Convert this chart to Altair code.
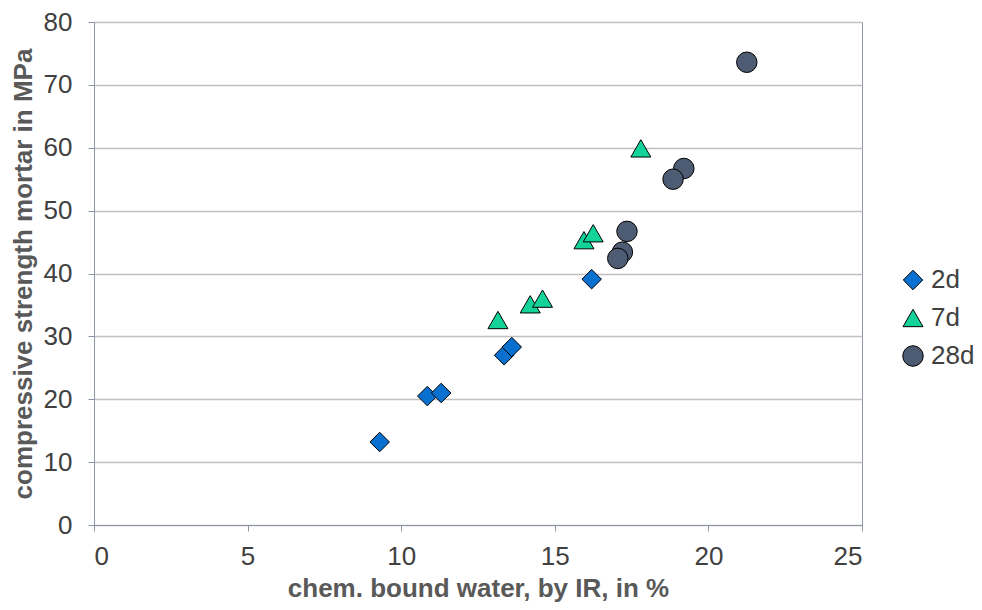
import altair as alt
import pandas as pd

x_2d = [9.3, 10.85, 11.3, 13.35, 13.6, 16.2]
y_2d = [13.2, 20.5, 21.0, 27.0, 28.3, 39.1]
x_7d = [13.15, 14.2, 14.6, 15.95, 16.25, 17.8]
y_7d = [32.6, 35.1, 36.0, 45.3, 46.4, 59.9]
x_28d = [21.25, 19.2, 18.85, 17.35, 17.2, 17.05]
y_28d = [73.6, 56.7, 55.0, 46.7, 43.4, 42.4]

series = ["2d", "7d", "28d"]
colors = ["#0A70D0", "#14D39A", "#4D5B73"]
shapes = ["diamond", "triangle-up", "circle"]
sizes = [380, 420, 340]

rows = []
for s, xs, ys in zip(series, [x_2d, x_7d, x_28d], [y_2d, y_7d, y_28d]):
    for a, b in zip(xs, ys):
        rows.append({"water": a, "strength": b, "age": s})
df = pd.DataFrame(rows)

font = "Liberation Sans"
axis_color = "#8c96a8"

chart = alt.Chart(df).mark_point(filled=True, stroke="#000000", strokeWidth=1, opacity=1).encode(
    x=alt.X("water:Q", scale=alt.Scale(domain=[0, 25], nice=False),
            axis=alt.Axis(title="chem. bound water, by IR, in %", values=[0, 5, 10, 15, 20, 25],
                          grid=False, tickSize=6, labelPadding=12, titlePadding=6,
                          labelFontSize=26, titleFontSize=26)),
    y=alt.Y("strength:Q", scale=alt.Scale(domain=[0, 80], nice=False),
            axis=alt.Axis(title="compressive strength mortar in MPa", values=list(range(0, 81, 10)),
                          grid=True, tickSize=6, labelPadding=16, titlePadding=7,
                          labelFontSize=26, titleFontSize=26)),
    color=alt.Color("age:N", scale=alt.Scale(domain=series, range=colors),
                    legend=alt.Legend(title=None, symbolSize=200, labelFontSize=26, labelFont=font,
                                      labelColor="#404040", rowPadding=12, orient="none",
                                      legendX=806, legendY=245, padding=0, labelOffset=5,
                                      symbolStrokeColor="#000000", symbolStrokeWidth=1)),
    shape=alt.Shape("age:N", scale=alt.Scale(domain=series, range=shapes)),
    size=alt.Size("age:N", scale=alt.Scale(domain=series, range=sizes), legend=None),
).properties(
    width=768, height=503,
    autosize=alt.AutoSizeParams(type="none"),
    padding={"left": 86, "top": 14, "right": 112, "bottom": 77},
).configure_axis(
    labelFont=font, labelColor="#404040",
    titleFont=font, titleFontWeight="bold", titleColor="#595959",
    domainColor=axis_color, tickColor=axis_color, gridColor="#bfbfbf", gridWidth=1.5,
).configure_view(stroke=axis_color, strokeWidth=1)

chart.save("out.html", embed_options={"renderer": "svg", "actions": False})
